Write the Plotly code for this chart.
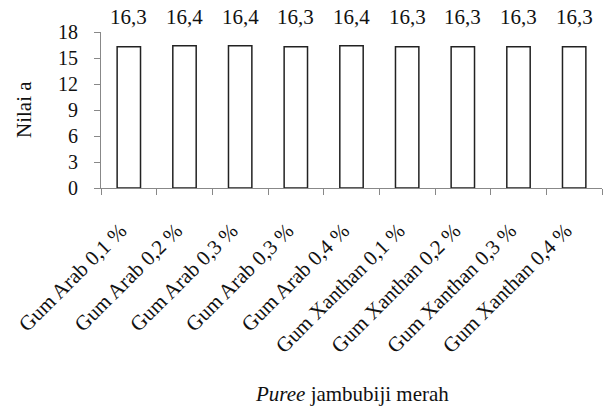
import plotly.graph_objects as go

# Hydrocolloid treatments applied to red guava puree
categories = [
    "Gum Arab 0,1 %", "Gum Arab 0,2 %", "Gum Arab 0,3 %", "Gum Arab 0,3 %",
    "Gum Arab 0,4 %", "Gum Xanthan 0,1 %", "Gum Xanthan 0,2 %",
    "Gum Xanthan 0,3 %", "Gum Xanthan 0,4 %",
]
# a* colour value per treatment
values = [16.3, 16.4, 16.4, 16.3, 16.4, 16.3, 16.3, 16.3, 16.3]
y_ticks = [0, 3, 6, 9, 12, 15, 18]

FONT = "'Liberation Serif', 'Times New Roman', Times, serif"
TEXT = "#111111"
AXIS = "#888888"
positions = list(range(len(categories)))
# rotated labels sit slightly left of each bar centre
label_pos = [p - 0.15 for p in positions]

fig = go.Figure()
fig.add_trace(go.Bar(
    x=positions,
    y=values,
    marker=dict(color="white", line=dict(color="#222222", width=1.5)),
    width=0.42,
    showlegend=False,
    hoverinfo="skip",
))

# value labels above each bar (decimal comma)
for xi, v in zip(positions, values):
    fig.add_annotation(
        x=xi, y=1, xref="x", yref="paper",
        yanchor="bottom", yshift=1, showarrow=False,
        text=f"{v:.1f}".replace(".", ","),
        font=dict(family=FONT, size=21, color=TEXT),
    )

# axis titles
fig.add_annotation(
    x=0, y=0.5, xref="paper", yref="paper", xshift=-91,
    text="Nilai a", textangle=-90, showarrow=False,
    font=dict(family=FONT, size=21, color=TEXT),
)
fig.add_annotation(
    x=0.5, y=0, xref="paper", yref="paper", yshift=-220,
    text="<i>Puree</i> jambubiji merah", showarrow=False,
    font=dict(family=FONT, size=21, color=TEXT),
)

fig.update_layout(
    width=606, height=412,
    margin=dict(l=101, r=4, t=32, b=224, autoexpand=False),
    paper_bgcolor="white", plot_bgcolor="white",
    font=dict(family=FONT, size=20, color=TEXT),
)
fig.update_xaxes(
    range=[-0.5, len(categories) - 0.5],
    tickmode="array", tickvals=label_pos, ticktext=categories,
    tickangle=-45, ticks="", ticklabelstandoff=21,
    minor=dict(ticks="outside", tick0=-0.5, dtick=1, ticklen=6,
               tickcolor=AXIS, tickwidth=1),
    showline=True, linecolor=AXIS, linewidth=1,
    showgrid=False, zeroline=False,
    tickfont=dict(family=FONT, size=21, color=TEXT),
)
fig.update_yaxes(
    range=[0, 18], tickmode="array", tickvals=y_ticks,
    ticks="outside", ticklen=6, tickcolor=AXIS, ticklabelstandoff=12,
    showline=True, linecolor=AXIS, linewidth=1,
    showgrid=False, zeroline=False,
    tickfont=dict(family=FONT, size=20, color=TEXT),
)

fig.write_html("out.html")
